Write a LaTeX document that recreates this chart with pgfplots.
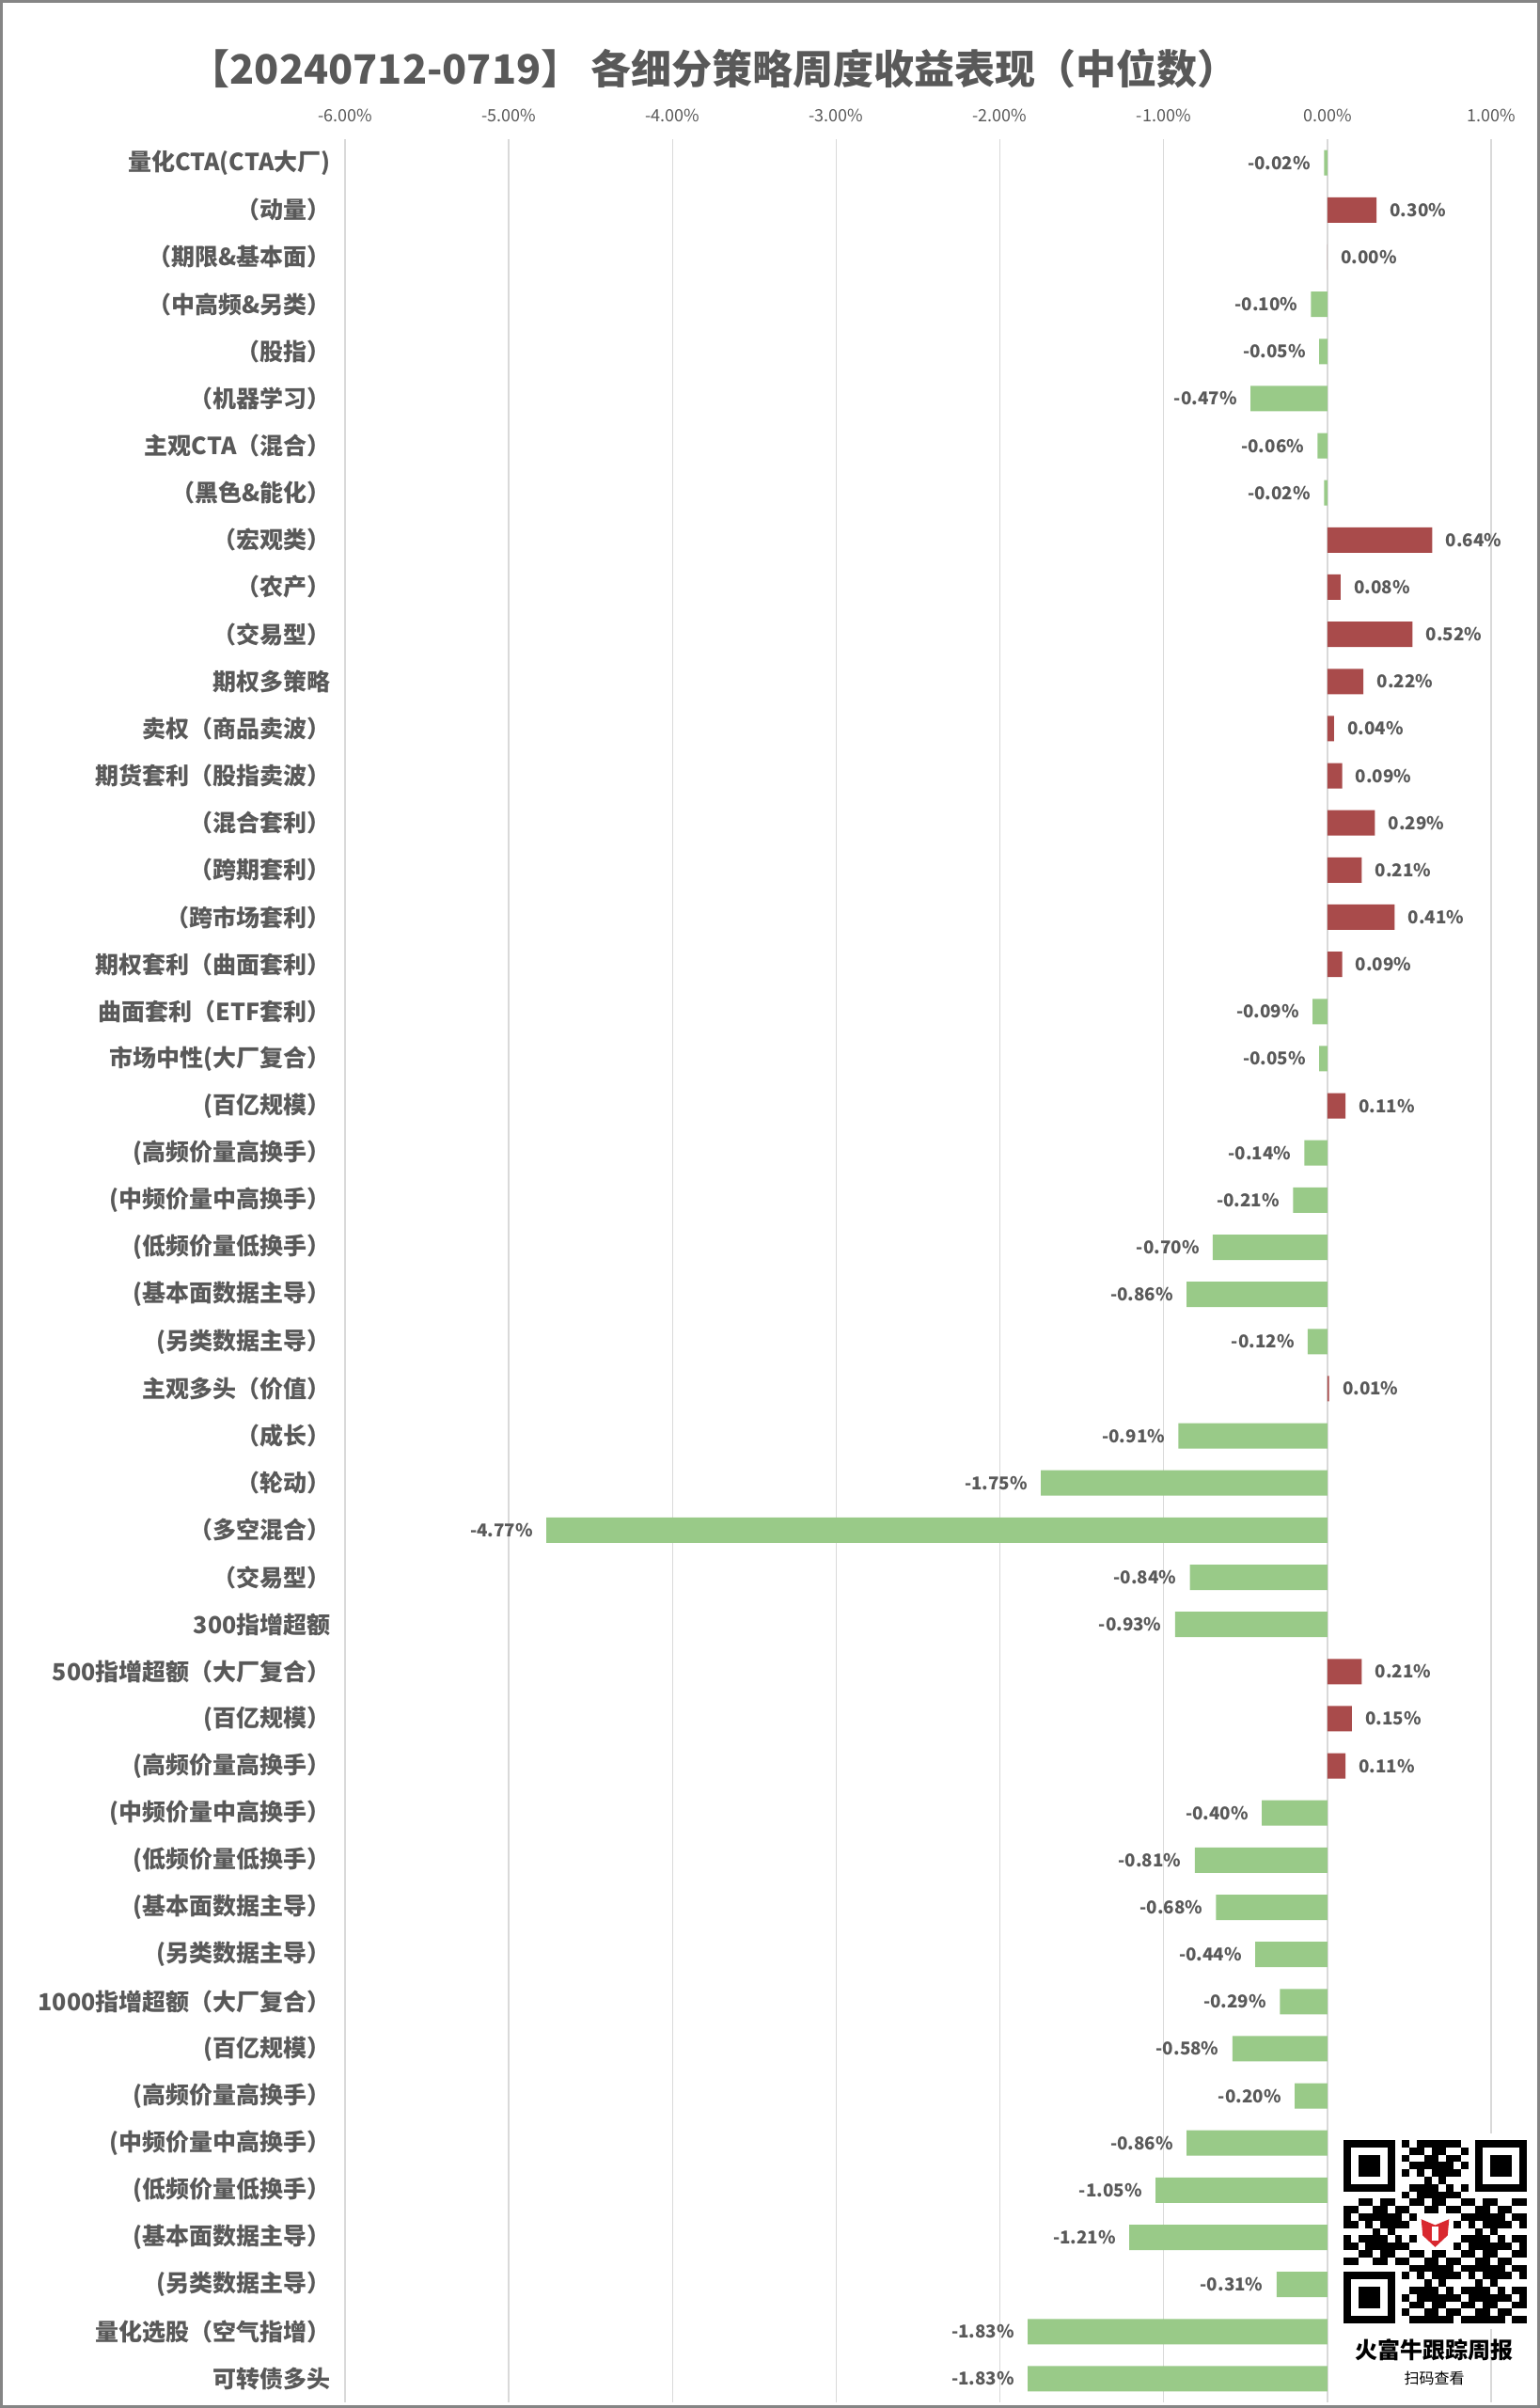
\documentclass[border=0pt]{standalone}
\usepackage{fontspec}
\setmainfont{Noto Sans CJK SC}
\usepackage{pgfplots}
\pgfplotsset{compat=1.18}
\definecolor{txt}{HTML}{595959}
\definecolor{posbar}{HTML}{A94B4B}
\definecolor{negbar}{HTML}{99CA88}
\definecolor{gridc}{HTML}{D9D9D9}
\definecolor{framec}{HTML}{858585}
\definecolor{logored}{HTML}{D9282F}

\begin{document}
\begin{tikzpicture}
\path[use as bounding box] (-183.5pt,-3pt) rectangle (635.5pt,1277.5pt);
\begin{axis}[
  at={(0,0)}, anchor=south west,
  scale only axis,
  width=609.5pt, height=1203.5pt,
  xmin=-6, xmax=1,
  ymin=0.5, ymax=48.5, y dir=reverse,
  xtick={-6,-5,-4,-3,-2,-1,0,1},
  ytick={1,...,48},
  xticklabel pos=upper,
  xmajorgrids,
  grid style={gridc, line width=0.75pt},
  axis line style={draw=none},
  major tick length=0pt,
  xticklabel={\pgfmathprintnumber[fixed,fixed zerofill,precision=2,assume math mode=true]{\tick}\%},
  xticklabel style={font=\fontsize{9}{10}\selectfont, text=txt, anchor=center, inner sep=0pt, yshift=12.5pt},
  yticklabels={
    {量化CTA(CTA大厂)},{（动量）},{（期限\&基本面）},{（中高频\&另类）},{（股指）},{（机器学习）},
    {主观CTA（混合）},{（黑色\&能化）},{（宏观类）},{（农产）},{（交易型）},{期权多策略},
    {卖权（商品卖波）},{期货套利（股指卖波）},{（混合套利）},{（跨期套利）},{（跨市场套利）},
    {期权套利（曲面套利）},{曲面套利（ETF套利）},{市场中性(大厂复合）},{(百亿规模）},
    {(高频价量高换手）},{(中频价量中高换手）},{(低频价量低换手）},{(基本面数据主导）},
    {(另类数据主导）},{主观多头（价值）},{（成长）},{（轮动）},{（多空混合）},{（交易型）},
    {300指增超额},{500指增超额（大厂复合）},{(百亿规模）},{(高频价量高换手）},
    {(中频价量中高换手）},{(低频价量低换手）},{(基本面数据主导）},{(另类数据主导）},
    {1000指增超额（大厂复合）},{(百亿规模）},{(高频价量高换手）},{(中频价量中高换手）},
    {(低频价量低换手）},{(基本面数据主导）},{(另类数据主导）},{量化选股（空气指增）},{可转债多头}},
  yticklabel style={font=\bfseries\fontsize{12.5}{14}\selectfont, text=txt, anchor=east, inner sep=0pt, xshift=-7.5pt},
  xbar, bar width=13.5pt, bar shift=0pt,
  nodes near coords={\pgfmathprintnumber[fixed,fixed zerofill,precision=2,assume math mode=true]{\pgfplotspointmeta}\%},
  every node near coord/.append style={font=\bfseries\fontsize{9.4}{11}\selectfont, text=txt, inner sep=0pt},
  clip=false,
]
% positive returns
\addplot[fill=posbar, draw=none,
  every node near coord/.append style={anchor=west, xshift=7pt}]
  coordinates {
  (0.30,2) (0.00,3) (0.64,9) (0.08,10) (0.52,11) (0.22,12) (0.04,13) (0.09,14)
  (0.29,15) (0.21,16) (0.41,17) (0.09,18) (0.11,21) (0.01,27) (0.21,33) (0.15,34) (0.11,35)
  };
% negative returns
\addplot[fill=negbar, draw=none,
  every node near coord/.append style={anchor=east, xshift=-7pt}]
  coordinates {
  (-0.02,1) (-0.10,4) (-0.05,5) (-0.47,6) (-0.06,7) (-0.02,8) (-0.09,19) (-0.05,20)
  (-0.14,22) (-0.21,23) (-0.70,24) (-0.86,25) (-0.12,26) (-0.91,28) (-1.75,29) (-4.77,30)
  (-0.84,31) (-0.93,32) (-0.40,36) (-0.81,37) (-0.68,38) (-0.44,39) (-0.29,40) (-0.58,41)
  (-0.20,42) (-0.86,43) (-1.05,44) (-1.21,45) (-0.31,46) (-1.83,47) (-1.83,48)
  };
\end{axis}

% title
\node[font=\bfseries\fontsize{21.5}{24}\selectfont, text=txt] at (196pt,1241pt)
  {【20240712-0719】 各细分策略周度收益表现（中位数）};

% QR badge
\fill[white] (528pt,39pt) rectangle (631pt,143pt);
\begin{scope}[shift={(531pt,42pt)}, x=3.9pt, y=3.9pt]
  \foreach \ox/\oy in {0/18, 18/18, 0/0}{
    \fill[black] (\ox,\oy) rectangle ++(7,7);
    \fill[white] (\ox+1,\oy+1) rectangle ++(5,5);
    \fill[black] (\ox+2,\oy+2) rectangle ++(3,3);
  }
  \foreach \i in {0,...,24}{
    \foreach \j in {0,...,24}{
      \pgfmathtruncatemacro{\skipit}{((\i<8)&&(\j>16)) || ((\i>16)&&(\j>16)) || ((\i<8)&&(\j<8)) || ((\i>9)&&(\i<15)&&(\j>9)&&(\j<15))}
      \pgfmathtruncatemacro{\on}{mod(3*\i*\i+7*\j+5*\i*\j+\j*\j+\i,7)<4}
      \ifnum\skipit=0 \ifnum\on=1 \fill[black] (\i,\j) rectangle ++(1,1); \fi\fi
    }
  }
  \fill[logored] (10.6,14.2) -- (12.5,13.4) -- (14.4,14.2) -- (14.2,12.0) -- (12.5,10.4) -- (10.8,12.0) -- cycle;
  \fill[white] (12.1,13.2) rectangle (12.9,11.3);
\end{scope}
\node[font=\bfseries\fontsize{12}{14}\selectfont, text=black] at (579.3pt,28pt) {火富牛跟踪周报};
\node[font=\fontsize{8}{10}\selectfont, text=black] at (579.3pt,13pt) {扫码查看};

% outer frame
\draw[framec, line width=1.5pt] (-182.75pt,-2.25pt) rectangle (634.75pt,1276.75pt);
\end{tikzpicture}
\end{document}
